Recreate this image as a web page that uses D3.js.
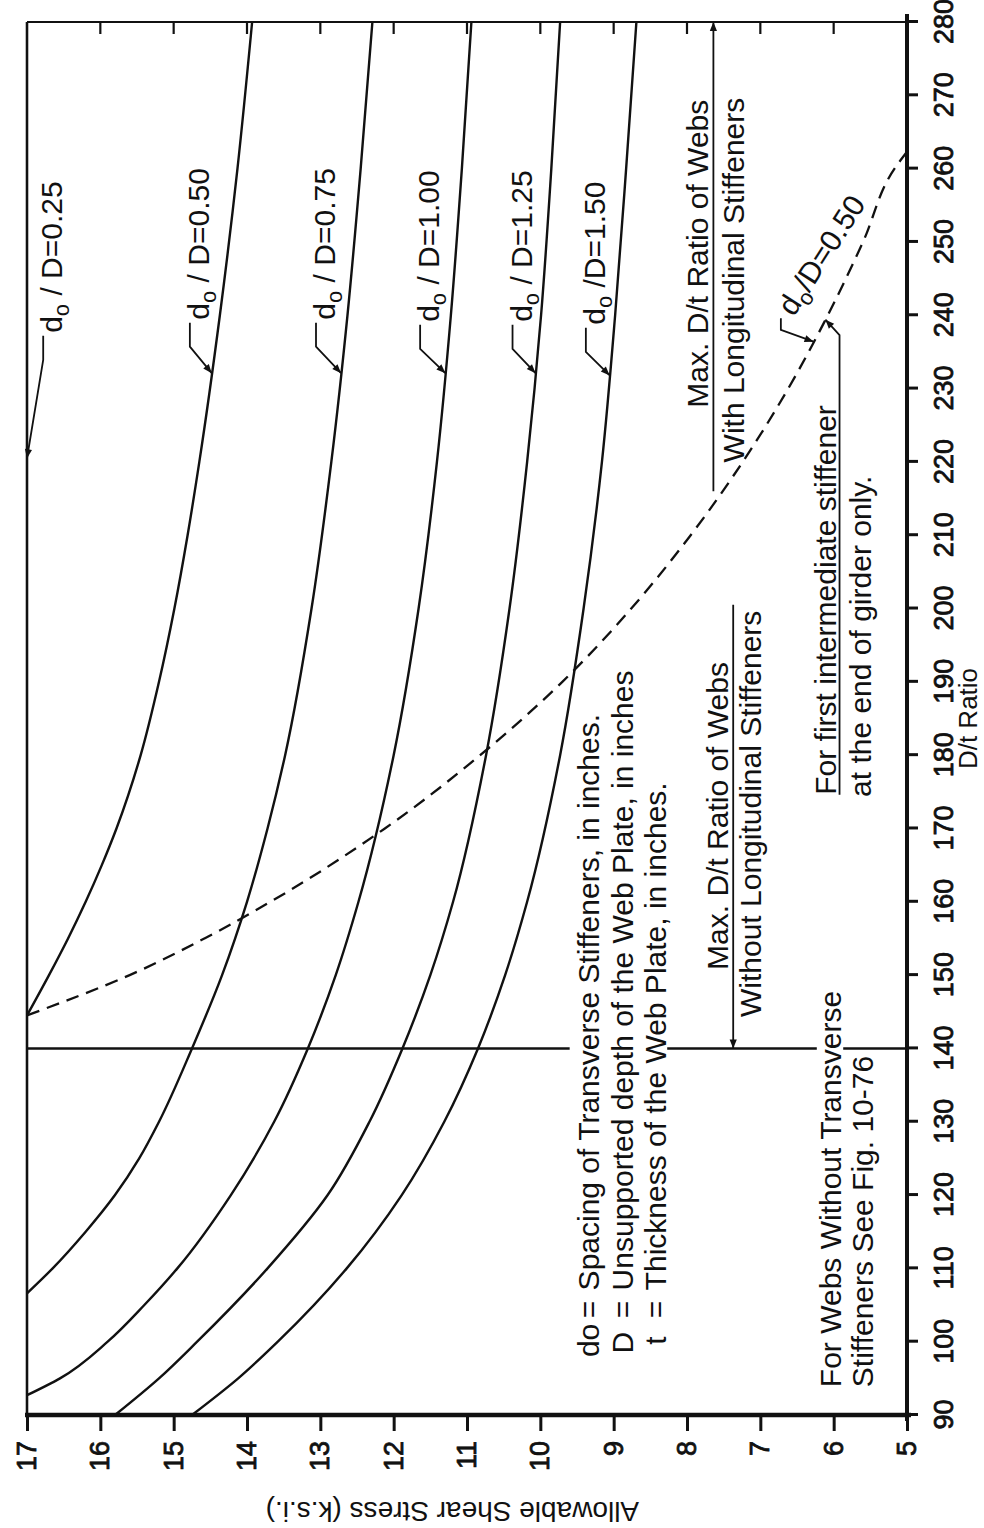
<!DOCTYPE html>
<html>
<head>
<meta charset="utf-8">
<script src="https://cdn.jsdelivr.net/npm/d3@7"></script>
<style>
  body { margin: 0; background: #fff; }
  svg { display: block; }
  text { font-family: "Liberation Sans", Arial, Helvetica, sans-serif; fill: #111; }
</style>
</head>
<body>
<script>
// tick labels
const dtTicks = [90, 100, 110, 120, 130, 140, 150, 160, 170, 180, 190, 200, 210, 220, 230, 240, 250, 260, 270, 280];
const stressTicks = [5, 6, 7, 8, 9, 10, 11, 12, 13, 14, 15, 16, 17];

// curves: [D/t, allowable shear stress ksi]
const curve025 = [[90, 17], [280, 17]];
const curve050 = [[144.5, 17], [150, 16.7], [155, 16.44], [160, 16.2], [165, 15.98], [170, 15.78], [180, 15.45], [190, 15.2], [200, 14.99], [210, 14.81], [220, 14.65], [240, 14.37], [260, 14.13], [280, 13.93]];
const curve075 = [[106.6, 17], [110, 16.65], [115, 16.2], [120, 15.8], [125, 15.47], [130, 15.2], [140, 14.75], [150, 14.34], [160, 14.0], [170, 13.72], [180, 13.48], [200, 13.12], [220, 12.85], [240, 12.63], [260, 12.45], [280, 12.29]];
const curve100 = [[92.7, 17], [95, 16.55], [100, 15.9], [105, 15.4], [110, 14.95], [120, 14.22], [130, 13.63], [140, 13.17], [150, 12.79], [160, 12.48], [180, 12.0], [200, 11.66], [220, 11.41], [240, 11.22], [260, 11.07], [280, 10.94]];
const curve125 = [[90, 15.8], [95, 15.2], [100, 14.68], [110, 13.72], [120, 12.9], [130, 12.33], [140, 11.88], [150, 11.5], [160, 11.19], [180, 10.74], [200, 10.42], [220, 10.18], [240, 9.99], [260, 9.85], [280, 9.73]];
const curve150 = [[90, 14.75], [95, 14.12], [100, 13.58], [110, 12.64], [120, 11.89], [130, 11.31], [140, 10.85], [150, 10.48], [160, 10.18], [180, 9.73], [200, 9.41], [220, 9.16], [240, 8.98], [260, 8.83], [280, 8.69]];
// dashed: first intermediate stiffener, do/D = 0.50
const dashed050 = [[144.5, 17], [150, 15.6], [155, 14.58], [160, 13.68], [170, 12.12], [180, 10.82], [190, 9.7], [200, 8.76], [210, 7.95], [220, 7.24], [230, 6.62], [240, 6.08], [250, 5.6], [260, 5.17], [262.3, 5.0]];

const maxDtWithout = 140;
const maxDtWith = 280;

const W = 1393, H = 880;

const svg = d3.select("body").append("svg")
    .attr("width", 984)
    .attr("height", 1528);

svg.append("defs").append("marker")
    .attr("id", "ah")
    .attr("viewBox", "0 0 10 10")
    .attr("refX", 10).attr("refY", 5)
    .attr("markerWidth", 11).attr("markerHeight", 9)
    .attr("markerUnits", "userSpaceOnUse")
    .attr("orient", "auto")
  .append("path")
    .attr("d", "M0,1L10,5L0,9z")
    .attr("fill", "#111");

// the whole chart is drawn upright and then turned a quarter turn
const g = svg.append("g").attr("transform", "translate(27,1415) rotate(-90)");

const x = d3.scaleLinear().domain([90, 280]).range([0, W]);
const y = d3.scaleLinear().domain([5, 17]).range([H, 0]);

// frame
g.append("line").attr("x1", 0).attr("x2", W).attr("y1", 0).attr("y2", 0)
    .attr("stroke", "#111").attr("stroke-width", 2.2);
g.append("line").attr("x1", W).attr("x2", W).attr("y1", 0).attr("y2", H)
    .attr("stroke", "#111").attr("stroke-width", 2.2);

// inward ticks on the D/t = 280 edge
g.selectAll(".itick").data(stressTicks.filter(d => d > 5 && d < 17)).enter()
  .append("line")
    .attr("x1", W).attr("x2", W - 12)
    .attr("y1", d => y(d)).attr("y2", d => y(d))
    .attr("stroke", "#111").attr("stroke-width", 2.2);

// D/t axis
const xAxis = g.append("g")
    .attr("transform", `translate(0,${H})`)
    .call(d3.axisBottom(x).tickValues(dtTicks).tickSize(11).tickSizeOuter(0).tickPadding(16));
xAxis.select(".domain").remove();
xAxis.selectAll(".tick line").attr("stroke", "#111").attr("stroke-width", 3);
xAxis.selectAll("text").attr("font-size", 27).attr("font-family", "Liberation Sans, Arial, sans-serif")
    .attr("fill", "#111").attr("stroke", "#111").attr("stroke-width", 0.8);
g.append("line").attr("x1", -6).attr("x2", W + 8).attr("y1", H).attr("y2", H)
    .attr("stroke", "#111").attr("stroke-width", 4);

// stress axis
const yAxis = g.append("g")
    .call(d3.axisLeft(y).tickValues(stressTicks).tickSize(16).tickSizeOuter(0).tickPadding(10));
yAxis.select(".domain").remove();
yAxis.selectAll(".tick line").attr("stroke", "#111").attr("stroke-width", 3);
yAxis.selectAll("text").attr("font-size", 27).attr("font-family", "Liberation Sans, Arial, sans-serif")
    .attr("fill", "#111").attr("stroke", "#111").attr("stroke-width", 0.8);
g.append("line").attr("x1", 0).attr("x2", 0).attr("y1", -2).attr("y2", H + 4)
    .attr("stroke", "#111").attr("stroke-width", 4.5);

// axis titles
g.append("text")
    .attr("x", x(185)).attr("y", H + 70)
    .attr("text-anchor", "middle")
    .attr("font-size", 26)
    .text("D/t Ratio");
g.append("text")
    .attr("transform", `translate(-87,${y(11.2)}) rotate(-90)`)
    .attr("text-anchor", "middle")
    .attr("font-size", 28)
    .text("Allowable Shear Stress (k.s.i.)");

// max D/t line without longitudinal stiffeners, broken where the notes cross it
[[17, 9.6], [8.27, 6.23], [5.87, 5]].forEach(s => {
  g.append("line")
      .attr("x1", x(maxDtWithout)).attr("x2", x(maxDtWithout))
      .attr("y1", y(s[0])).attr("y2", y(s[1]))
      .attr("stroke", "#111").attr("stroke-width", 2.5);
});

// curves
const line = d3.line()
    .x(d => x(d[0]))
    .y(d => y(d[1]))
    .curve(d3.curveMonotoneX);

[curve025, curve050, curve075, curve100, curve125, curve150].forEach(c => {
  g.append("path")
      .datum(c)
      .attr("fill", "none")
      .attr("stroke", "#111")
      .attr("stroke-width", 2.4)
      .attr("d", line);
});

g.append("path")
    .datum(dashed050)
    .attr("fill", "none")
    .attr("stroke", "#111")
    .attr("stroke-width", 2.3)
    .attr("stroke-dasharray", "13,8")
    .attr("d", line);

function valueAt(data, dt) {
  for (let i = 1; i < data.length; i++) {
    if (dt <= data[i][0]) {
      const a = data[i - 1], b = data[i];
      return a[1] + (b[1] - a[1]) * (dt - a[0]) / (b[0] - a[0]);
    }
  }
  return data[data.length - 1][1];
}

function subLabel(px, py, rest, rot) {
  const t = g.append("text")
      .attr("font-size", 30)
      .attr("transform", `translate(${px},${py})` + (rot ? ` rotate(${rot})` : ""));
  t.append("tspan").text("d");
  t.append("tspan").attr("font-size", 22).attr("dy", 7).text("o");
  t.append("tspan").attr("dy", -7).text(rest);
  return t;
}

// curve labels with hooked leaders
const labels = [
  {data: curve025, rest: " / D=0.25", dt: 237.6, st: 16.52, tip: 220.5},
  {data: curve050, rest: " / D=0.50", dt: 239.4, st: 14.52, tip: 232.1},
  {data: curve075, rest: " / D=0.75", dt: 239.4, st: 12.8, tip: 232.1},
  {data: curve100, rest: " / D=1.00", dt: 239.1, st: 11.38, tip: 232.1},
  {data: curve125, rest: " / D=1.25", dt: 239.1, st: 10.12, tip: 232.1},
  {data: curve150, rest: " /D=1.50", dt: 238.7, st: 9.12, tip: 231.8}
];
labels.forEach(l => {
  const px = x(l.dt), py = y(l.st);
  subLabel(px, py, l.rest);
  g.append("path")
      .attr("d", `M${px - 3},${py - 19}L${px - 27},${py - 19}L${x(l.tip)},${y(valueAt(l.data, l.tip))}`)
      .attr("fill", "none").attr("stroke", "#111").attr("stroke-width", 1.8)
      .attr("marker-end", "url(#ah)");
});

// dashed curve label
subLabel(x(248.2), y(6.17), "/D=0.50", 32.6).attr("text-anchor", "middle").attr("dy", "0.35em");
g.append("path")
    .attr("d", `M${x(239.6)},${y(6.72)}L${x(238)},${y(6.72)}L${x(236.4)},${y(valueAt(dashed050, 236.4))}`)
    .attr("fill", "none").attr("stroke", "#111").attr("stroke-width", 1.8)
    .attr("marker-end", "url(#ah)");

function note(dt, st, str, anchor) {
  return g.append("text")
      .attr("x", x(dt)).attr("y", y(st))
      .attr("font-size", 30)
      .attr("text-anchor", anchor || "start")
      .text(str);
}

// definitions
note(97.9, 9.2, "do");
note(98.4, 8.74, "D");
note(99.6, 8.29, "t");
note(103.2, 9.2, "=");
note(103.2, 8.74, "=");
note(103.2, 8.29, "=");
note(107.0, 9.2, "Spacing of Transverse Stiffeners, in inches.");
note(107.0, 8.74, "Unsupported depth of the Web Plate, in inches");
note(107.0, 8.29, "Thickness of the Web Plate, in inches.");

note(93.8, 5.9, "For Webs Without Transverse");
note(93.8, 5.46, "Stiffeners See Fig. 10-76");

// max D/t notes
note(171.7, 7.44, "Max. D/t Ratio of Webs", "middle");
note(172.0, 6.99, "Without Longitudinal Stiffeners", "middle");
g.append("line")
    .attr("x1", x(200.5)).attr("x2", x(maxDtWithout))
    .attr("y1", y(7.37)).attr("y2", y(7.37))
    .attr("stroke", "#111").attr("stroke-width", 1.8)
    .attr("marker-end", "url(#ah)");

note(248.4, 7.71, "Max. D/t Ratio of Webs", "middle");
note(244.8, 7.22, "With Longitudinal Stiffeners", "middle");
g.append("line")
    .attr("x1", x(216)).attr("x2", x(maxDtWith))
    .attr("y1", y(7.64)).attr("y2", y(7.64))
    .attr("stroke", "#111").attr("stroke-width", 1.8)
    .attr("marker-end", "url(#ah)");

// first intermediate stiffener note
note(174.6, 5.97, "For first intermediate stiffener");
note(174.3, 5.49, "at the end of girder only.");
g.append("path")
    .attr("d", `M${x(174.6)},${y(5.92)}L${x(237.3)},${y(5.92)}L${x(239.4)},${y(valueAt(dashed050, 239.4))}`)
    .attr("fill", "none").attr("stroke", "#111").attr("stroke-width", 1.8)
    .attr("marker-end", "url(#ah)");
</script>
</body>
</html>
